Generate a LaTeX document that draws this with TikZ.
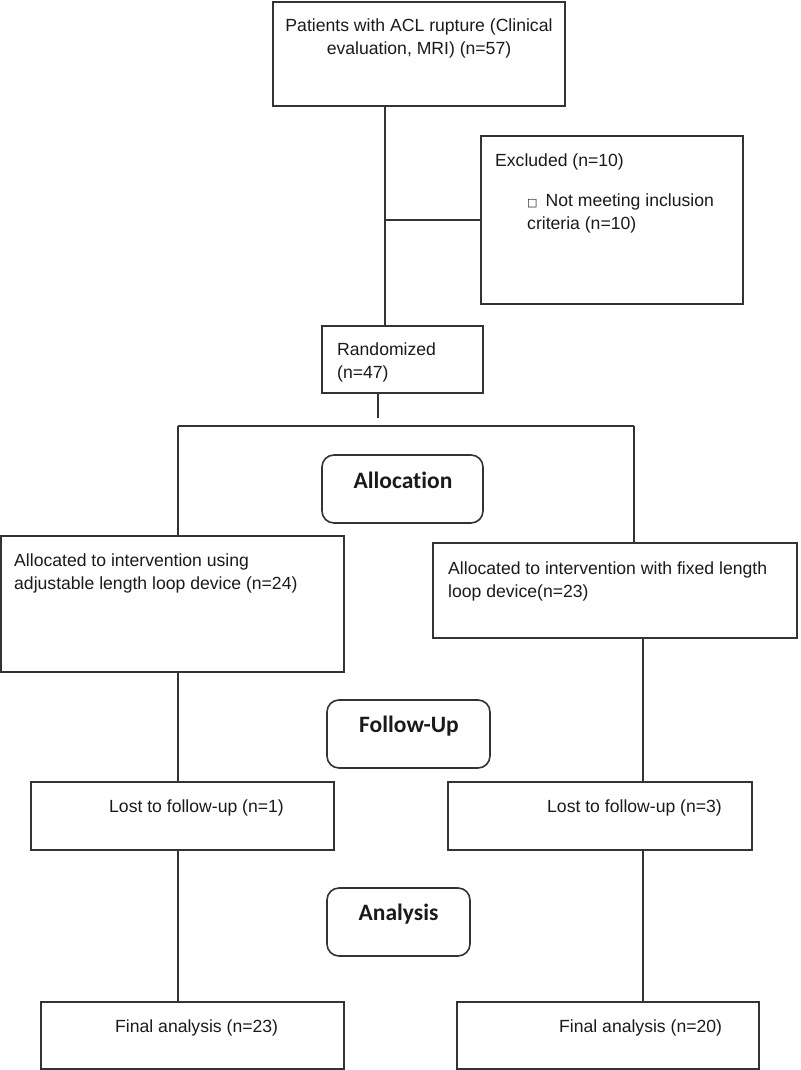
\documentclass[tikz,border=0pt]{standalone}
\usepackage{fontspec}
\setmainfont{Liberation Sans}
\newfontfamily\stagefont[Ligatures=NoCommon]{Carlito}
\newfontfamily\glyphfont{DejaVu Sans}
\definecolor{boxStroke}{HTML}{333333}
\definecolor{textInk}{HTML}{1A1A1A}
\tikzset{
  frame/.style = {
    rectangle, draw=boxStroke, line width=1.6pt, outer sep=0pt, inner sep=0pt,
  },
  stage/.style = {frame, rounded corners=12pt},
  txt/.style = {
    font=\fontsize{17.6}{23}\selectfont, text=textInk, inner sep=0pt, align=left,
  },
  stagetxt/.style = {
    font=\stagefont\bfseries\fontsize{23.5}{28}\selectfont, text=textInk,
    inner sep=0pt,
  },
  wire/.style = {draw=boxStroke, line width=1.2pt},
}

\begin{document}
\begin{tikzpicture}[x=1pt, y=1pt]
\useasboundingbox (0,0) rectangle (800,-1070);

% boxes
\node[frame, minimum width=292, minimum height=104] (pat)   at (419,-54)     {};
\node[frame, minimum width=262, minimum height=168] (excl)  at (612,-220)    {};
\node[frame, minimum width=161, minimum height=67]  (rand)  at (402.5,-359.5) {};
\node[stage, minimum width=161, minimum height=68]  (alloc) at (402.5,-489)  {};
\node[frame, minimum width=343, minimum height=136] (armL)  at (172.5,-604)  {};
\node[frame, minimum width=364, minimum height=95]  (armR)  at (615,-590.5)  {};
\node[stage, minimum width=163, minimum height=68]  (fup)   at (408.5,-734)  {};
\node[frame, minimum width=303, minimum height=68]  (lostL) at (182.5,-816)  {};
\node[frame, minimum width=304, minimum height=68]  (lostR) at (600,-816)    {};
\node[stage, minimum width=143, minimum height=68]  (anal)  at (398.5,-922)  {};
\node[frame, minimum width=303, minimum height=67]  (finL)  at (192.5,-1035.5) {};
\node[frame, minimum width=302, minimum height=67]  (finR)  at (608,-1035.5) {};

% texts
\node[txt, anchor=north, align=center] (patT) at (419,-19)
  {Patients with ACL rupture (Clinical\\evaluation, MRI) (n=57)};
\node[txt, anchor=north west] (exclT) at (495,-154) {Excluded (n=10)};
\node[txt, anchor=north west] (exclI) at (527,-194)
  {{\glyphfont\fontsize{11}{11}\selectfont □}\hspace{8pt}Not meeting inclusion\\criteria (n=10)};
\node[txt, anchor=north west] (randT) at (337,-343) {Randomized\\(n=47)};
\node[stagetxt, anchor=base] (allocT) at (403,-488) {Allocation};
\node[txt, anchor=north west] (armLT) at (14,-554)
  {Allocated to intervention using\\adjustable length loop device (n=24)};
\node[txt, anchor=north west] (armRT) at (448,-562)
  {Allocated to intervention with fixed length\\loop device(n=23)};
\node[stagetxt, anchor=base] (fupT) at (409,-732) {Follow-Up};
\node[txt, anchor=base west] (lostLT) at (109,-812) {Lost to follow-up (n=1)};
\node[txt, anchor=base west] (lostRT) at (547,-812) {Lost to follow-up (n=3)};
\node[stagetxt, anchor=base] (analT) at (398.5,-920) {Analysis};
\node[txt, anchor=base west] (finLT) at (115,-1032) {Final analysis (n=23)};
\node[txt, anchor=base west] (finRT) at (559,-1032) {Final analysis (n=20)};

% connectors
\coordinate (trunk) at (385,0);
\coordinate (split) at (378,-418);
\coordinate (barL)  at (178,-426);
\coordinate (barR)  at (634,-426);
\coordinate (colL)  at (178,0);
\coordinate (colR)  at (643,0);

\draw[wire] (trunk |- pat.south) -- (trunk |- rand.north);
\draw[wire] (trunk |- excl.west) -- (excl.west);
\draw[wire] (split |- rand.south) -- (split);
\draw[wire] (barL) -- (barR);
\draw[wire] (barL) -- (barL |- armL.north);
\draw[wire] (barR) -- (barR |- armR.north);
\draw[wire] (colL |- armL.south) -- (colL |- lostL.north);
\draw[wire] (colL |- lostL.south) -- (colL |- finL.north);
\draw[wire] (colR |- armR.south) -- (colR |- lostR.north);
\draw[wire] (colR |- lostR.south) -- (colR |- finR.north);

\end{tikzpicture}
\end{document}
